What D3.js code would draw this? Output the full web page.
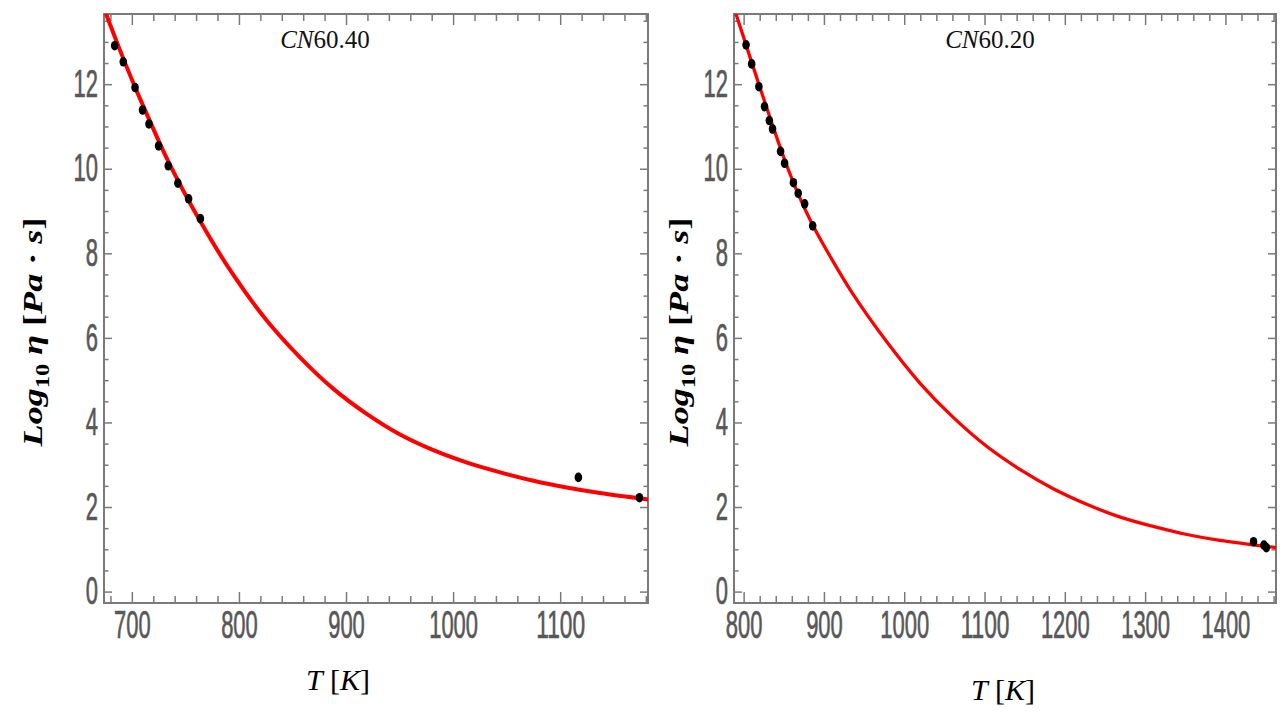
<!DOCTYPE html>
<html>
<head>
<meta charset="utf-8">
<script src="https://cdn.jsdelivr.net/npm/d3@7"></script>
<style>
  body { margin: 0; background: #fff; }
  svg { display: block; }
</style>
</head>
<body>
<svg id="chart" width="1280" height="720"></svg>
<script>
// values
const yTicks = [0, 2, 4, 6, 8, 10, 12];

// CN60.40
const leftTitle = 'CN60.40';
const leftXTicks = [700, 800, 900, 1000, 1100];
const leftPointsT = [684, 692, 703, 710, 716, 725, 734, 743, 753, 764, 1117, 1174];
const leftPointsLog = [12.91, 12.53, 11.92, 11.39, 11.06, 10.54, 10.07, 9.66, 9.29, 8.82, 2.70, 2.22];
const leftCurveT = [676, 689, 703, 717, 733, 764, 794.5, 826, 857, 888, 920, 950, 981, 1013, 1044, 1075, 1106, 1137, 1182];
const leftCurveLog = [13.66, 12.80, 11.93, 11.12, 10.23, 8.75, 7.50, 6.41, 5.54, 4.80, 4.19, 3.72, 3.35, 3.05, 2.82, 2.62, 2.46, 2.33, 2.18];

// CN60.20
const rightTitle = 'CN60.20';
const rightXTicks = [800, 900, 1000, 1100, 1200, 1300, 1400];
const rightPointsT = [803, 810, 819, 826, 832, 836, 846, 851, 862, 868, 876, 886, 1435, 1448, 1451];
const rightPointsLog = [12.93, 12.48, 11.94, 11.47, 11.14, 10.94, 10.41, 10.13, 9.67, 9.42, 9.17, 8.65, 1.18, 1.10, 1.04];
const rightCurveT = [790.5, 803, 820, 836, 851.5, 868, 886, 908, 936, 978.5, 1020, 1061, 1103, 1144, 1185, 1228, 1269, 1310, 1352, 1393, 1463];
const rightCurveLog = [13.66, 12.93, 11.94, 11.03, 10.19, 9.40, 8.67, 7.92, 7.04, 5.90, 4.92, 4.12, 3.43, 2.89, 2.44, 2.06, 1.76, 1.54, 1.35, 1.21, 1.04];

const svg = d3.select('#chart');
const frameColor = '#7a7a7a';
const labelColor = '#585858';
const plotTop = 14, plotBottom = 603;
const yDomain = [-0.27, 13.66];

function drawPanel(p) {
  const x = d3.scaleLinear().domain(p.xDomain).range([p.left, p.right]);
  const y = d3.scaleLinear().domain(yDomain).range([plotBottom, plotTop]);
  const g = svg.append('g');

  const clipId = 'clip_' + p.id;
  g.append('clipPath').attr('id', clipId)
    .append('rect')
    .attr('x', p.left).attr('y', plotTop)
    .attr('width', p.right - p.left).attr('height', plotBottom - plotTop);

  // minor ticks (x every 20, y every 0.5)
  const xMinor = d3.range(Math.ceil(p.xDomain[0] / 20) * 20, p.xDomain[1], 20).filter(v => v % 100 !== 0);
  const yMinor = d3.range(0, yDomain[1], 0.5).filter(v => v % 2 !== 0);

  const styleAxis = sel => {
    sel.select('.domain').remove();
    sel.selectAll('line').attr('stroke', frameColor).attr('stroke-width', 1.5);
  };

  g.append('g').attr('transform', `translate(0,${plotBottom})`)
    .call(d3.axisBottom(x).tickValues(xMinor).tickSize(-7).tickFormat(''))
    .call(styleAxis);
  g.append('g').attr('transform', `translate(0,${plotTop})`)
    .call(d3.axisTop(x).tickValues(xMinor).tickSize(-7).tickFormat(''))
    .call(styleAxis);
  g.append('g').attr('transform', `translate(${p.left},0)`)
    .call(d3.axisLeft(y).tickValues(yMinor).tickSize(-4.5).tickFormat(''))
    .call(styleAxis);
  g.append('g').attr('transform', `translate(${p.right},0)`)
    .call(d3.axisRight(y).tickValues(yMinor).tickSize(-4.5).tickFormat(''))
    .call(styleAxis);

  // major ticks with labels
  const styleLabels = sel => {
    sel.selectAll('text')
      .attr('fill', labelColor)
      .attr('stroke', labelColor)
      .attr('stroke-width', 0.7)
      .style('font-family', '"Liberation Sans", Arial, sans-serif')
      .style('font-size', '38px')
      .attr('textLength', function () { return this.textContent.length * 12.2; })
      .attr('lengthAdjust', 'spacingAndGlyphs');
  };

  g.append('g').attr('transform', `translate(0,${plotBottom})`)
    .call(d3.axisBottom(x).tickValues(p.xTicks).tickSize(-11).tickPadding(8).tickFormat(d3.format('d')))
    .call(styleAxis).call(styleLabels);
  g.append('g').attr('transform', `translate(0,${plotTop})`)
    .call(d3.axisTop(x).tickValues(p.xTicks).tickSize(-11).tickFormat(''))
    .call(styleAxis);
  g.append('g').attr('transform', `translate(${p.left},0)`)
    .call(d3.axisLeft(y).tickValues(yTicks).tickSize(-8).tickPadding(6).tickFormat(d3.format('d')))
    .call(styleAxis).call(styleLabels);
  g.append('g').attr('transform', `translate(${p.right},0)`)
    .call(d3.axisRight(y).tickValues(yTicks).tickSize(-8).tickFormat(''))
    .call(styleAxis);

  // frame
  g.append('rect')
    .attr('x', p.left).attr('y', plotTop)
    .attr('width', p.right - p.left).attr('height', plotBottom - plotTop)
    .attr('fill', 'none').attr('stroke', frameColor).attr('stroke-width', 2);

  // fitted curve
  const curve = p.curveT.map((t, i) => ({ t, v: p.curveLog[i] }));
  const line = d3.line()
    .x(d => x(d.t))
    .y(d => y(d.v))
    .curve(d3.curveCatmullRom.alpha(0.5));
  g.append('path')
    .datum(curve)
    .attr('clip-path', `url(#${clipId})`)
    .attr('fill', 'none')
    .attr('stroke', '#ff0000')
    .attr('stroke-width', p.curveWidth)
    .attr('stroke-linecap', 'round')
    .attr('d', line);

  // measured points
  const pts = p.pointsT.map((t, i) => ({ t, v: p.pointsLog[i] }));
  g.selectAll('ellipse.pt')
    .data(pts)
    .enter().append('ellipse')
    .attr('class', 'pt')
    .attr('cx', d => x(d.t))
    .attr('cy', d => y(d.v))
    .attr('rx', 3.8)
    .attr('ry', 4.8)
    .attr('fill', '#000');

  // panel title
  const title = g.append('text')
    .attr('x', p.titleX).attr('y', 48)
    .attr('text-anchor', 'middle')
    .style('font-family', '"Liberation Serif", "Times New Roman", serif')
    .style('font-size', '25px')
    .attr('fill', '#111');
  title.append('tspan').style('font-style', 'italic').text(p.title.slice(0, 2));
  title.append('tspan').text(p.title.slice(2));

  // y axis title
  const yt = g.append('text')
    .attr('transform', `translate(${p.yTitleX},332) rotate(-90) scale(1.29,1)`)
    .attr('text-anchor', 'middle')
    .style('font-family', '"Liberation Serif", "Times New Roman", serif')
    .style('font-size', '28px')
    .style('font-weight', 'bold')
    .attr('fill', '#000');
  yt.append('tspan').style('font-style', 'italic').text('Log');
  yt.append('tspan').style('font-size', '19px').attr('dy', 7).text('10');
  yt.append('tspan').style('font-style', 'italic').attr('dy', -7).text(' η ');
  yt.append('tspan').text('[');
  yt.append('tspan').style('font-style', 'italic').text('Pa');
  yt.append('tspan').text(' · ');
  yt.append('tspan').style('font-style', 'italic').text('s');
  yt.append('tspan').text(']');

  // x axis title
  const xt = g.append('text')
    .attr('x', p.xTitleX).attr('y', p.xTitleY)
    .attr('text-anchor', 'middle')
    .style('font-family', '"Liberation Serif", "Times New Roman", serif')
    .style('font-size', '30px')
    .attr('fill', '#000');
  xt.append('tspan').style('font-style', 'italic').text('T');
  xt.append('tspan').text(' [');
  xt.append('tspan').style('font-style', 'italic').text('K');
  xt.append('tspan').text(']');
}

drawPanel({
  id: 'left', title: leftTitle, titleX: 325,
  left: 104, right: 648, xDomain: [674, 1182], xTicks: leftXTicks,
  pointsT: leftPointsT, pointsLog: leftPointsLog,
  curveT: leftCurveT, curveLog: leftCurveLog, curveWidth: 4,
  yTitleX: 42, xTitleX: 338, xTitleY: 690
});

drawPanel({
  id: 'right', title: rightTitle, titleX: 990,
  left: 734, right: 1276, xDomain: [788, 1463], xTicks: rightXTicks,
  pointsT: rightPointsT, pointsLog: rightPointsLog,
  curveT: rightCurveT, curveLog: rightCurveLog, curveWidth: 3.3,
  yTitleX: 688, xTitleX: 1003, xTitleY: 700
});
</script>
</body>
</html>
